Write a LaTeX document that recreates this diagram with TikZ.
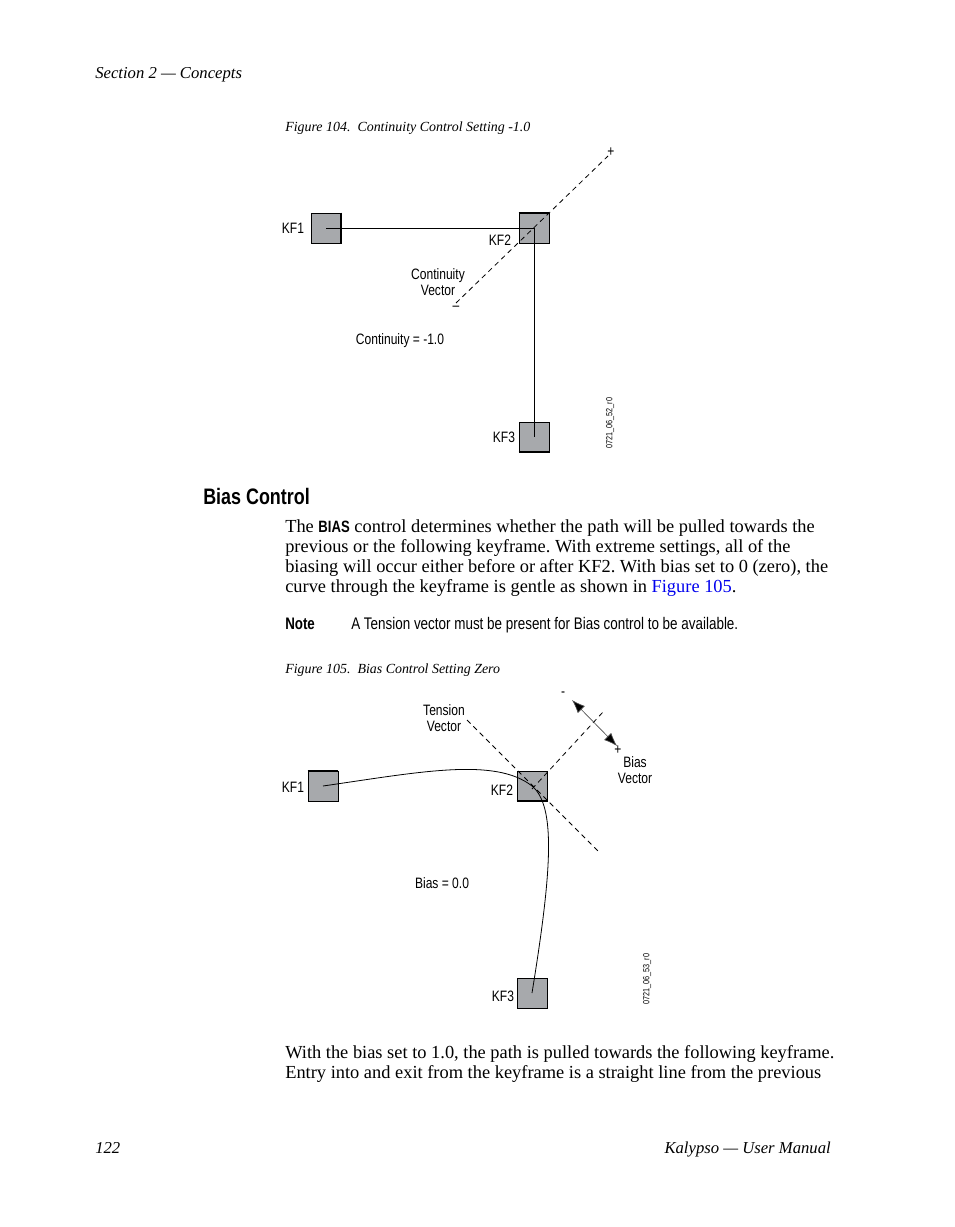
\documentclass[tikz,border=0pt]{standalone}
\usepackage{fontspec}
\setmainfont{Liberation Serif}
\setsansfont{Liberation Sans}[FakeStretch=0.8]
\usetikzlibrary{arrows.meta}
\definecolor{boxgray}{RGB}{167,169,172}
\definecolor{linkblue}{RGB}{0,0,238}
\frenchspacing
\begin{document}
\begin{tikzpicture}[x=0.75pt,y=-0.75pt,
  kfbox/.style={draw=black, line width=0.5pt, fill=boxgray, minimum size=22.5pt, inner sep=0pt},
  lbl/.style={font=\sffamily\fontsize{11.3}{12.2}\selectfont, inner sep=0pt, align=center},
  idtext/.style={font=\sffamily\fontsize{6.8}{7}\selectfont, inner sep=0pt, rotate=90},
  bodyline/.style={font=\fontsize{13.8}{15}\selectfont, anchor=base west, inner sep=0pt},
  figcap/.style={font=\itshape\fontsize{10.45}{12}\selectfont, anchor=base west, inner sep=0pt},
  runhead/.style={font=\itshape\fontsize{12.5}{15}\selectfont, inner sep=0pt},
  dsh/.style={line width=0.6pt, dash pattern=on 3.75pt off 3pt},
  thickside/.style={line width=1.6pt},
  conn/.style={line width=0.6pt},
  biasarrow/.style={line width=0.5pt, draw=black!70, {Latex[length=10pt,width=7.5pt,fill=black]}-{Latex[length=10pt,width=7.5pt,fill=black]}}
]
\useasboundingbox[fill=white] (0,0) rectangle (954,1227);

% running head and footer
\node[runhead, anchor=base west] (hdr) at (95,79) {Section 2 --- Concepts};
\node[runhead, anchor=base west] (pgno) at (95,1153) {122};
\node[runhead, anchor=base east] (foot) at (831,1153) {Kalypso --- User Manual};

% ---------------- Figure 104 ----------------
\node[figcap] (cap104) at (285,132) {Figure 104.\ \ Continuity Control Setting -1.0};

\node[kfbox] (a1) at (326,228) {};
\node[kfbox] (a2) at (534,228) {};
\node[kfbox] (a3) at (534,437) {};
\draw[thickside] (a1.north east) -- (a1.south east);
\draw[thickside] (a2.north west) -- (a2.north east);
\draw[thickside] (a3.south west) -- (a3.south east);

\draw[conn] (a1.center) -- (a2.center) -- (a3.center);

\coordinate (cvm) at (456,303);
\coordinate (cvp) at (608,156);
\draw[dsh] (cvm) -- (cvp);
\node[lbl] (plus1) at (611,152) {+};
\node[lbl] (minus1) at (456,308) {--};

\node[lbl] (l1) at (293,228) {KF1};
\node[lbl] (l2) at (500,240) {KF2};
\node[lbl] (l3) at (504,437) {KF3};
\node[lbl] (cv) at (438,282) {Continuity\\Vector};
\node[lbl] (ceq) at (400,341) {Continuity = -1.0};
\node[idtext] (id1) at (610,423) {0721\_06\_52\_r0};

% ---------------- Bias Control text ----------------
\node[anchor=base west, inner sep=0pt, font=\sffamily\bfseries\fontsize{16.8}{19}\selectfont] (head) at (203,504) {Bias Control};

\node[bodyline] (p1) at (285,532) {The {\sffamily\bfseries\fontsize{12.3}{13}\selectfont BIAS} control determines whether the path will be pulled towards the};
\node[bodyline] (p2) at (285,552) {previous or the following keyframe. With extreme settings, all of the};
\node[bodyline] (p3) at (285,572) {biasing will occur either before or after KF2. With bias set to 0 (zero), the};
\node[bodyline] (p4) at (285,592) {curve through the keyframe is gentle as shown in \textcolor{linkblue}{Figure 105}.};

\node[anchor=base west, inner sep=0pt, font=\sffamily\bfseries\fontsize{12.5}{13}\selectfont] (note) at (285,629) {Note};
\node[anchor=base west, inner sep=0pt, font=\sffamily\fontsize{12.6}{13}\selectfont] (notet) at (351,629) {A Tension vector must be present for Bias control to be available.};

% ---------------- Figure 105 ----------------
\node[figcap] (cap105) at (285,673) {Figure 105.\ \ Bias Control Setting Zero};

\node[kfbox] (b1) at (323,786) {};
\node[kfbox] (b2) at (532,786) {};
\node[kfbox] (b3) at (532,993) {};
\draw[thickside] (b1.north west) -- (b1.north east);
\draw[thickside] (b2.south west) -- (b2.south east);

\draw[conn] (b1.center) .. controls (420,772) and (495,757) .. (b2.center)
            .. controls (556,806) and (552,870) .. (b3.center);

\coordinate (tv1) at (467,720);
\coordinate (tv2) at (600,853);
\draw[dsh] (tv1) -- (tv2);
\coordinate (bv1) at (532,789);
\coordinate (bv2) at (603,712);
\draw[dsh] (bv1) -- (bv2);

\coordinate (ba1) at (572,700);
\coordinate (ba2) at (617,746);
\draw[biasarrow] (ba1) -- (ba2);
\node[lbl] (minus2) at (563,694) {-};
\node[lbl] (plus2) at (618,750) {+};

\node[lbl] (m1) at (293,787) {KF1};
\node[lbl] (m2) at (502,790) {KF2};
\node[lbl] (m3) at (503,996) {KF3};
\node[lbl] (tvl) at (444,718) {Tension\\Vector};
\node[lbl] (bvl) at (635,770) {Bias\\Vector};
\node[lbl] (beq) at (442,883) {Bias = 0.0};
\node[idtext] (id2) at (647,979) {0721\_06\_53\_r0};

% ---------------- closing text ----------------
\node[bodyline] (q1) at (285,1058) {With the bias set to 1.0, the path is pulled towards the following keyframe.};
\node[bodyline] (q2) at (285,1078) {Entry into and exit from the keyframe is a straight line from the previous};
\end{tikzpicture}
\end{document}
